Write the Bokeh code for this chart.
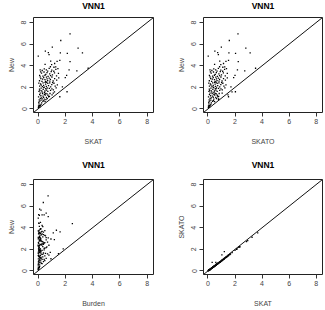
from bokeh.plotting import figure
from bokeh.layouts import column, row
from bokeh.models import Range1d, Slope, Title, FixedTicker
from bokeh.embed import file_html
from bokeh.resources import INLINE

title_text = "VNN1"
ticks = [0, 2, 4, 6, 8]

skat = [0.03, 0.06, 0.11, 0.07, 0.17, 0.22, 0.04, 0.13,
        0.06, 0.13, 0.22, 0.31, 0.43, 0.52, 0.58, 0.17, 0.27, 0.36, 0.68, 0.46, 0.09,
        0.04, 0.12, 0.21, 0.33, 0.41, 0.53, 0.62, 0.73, 0.84, 0.88, 1.03, 1.12, 0.26, 0.16, 0.37, 0.57, 0.47, 0.66, 0.78,
        0.07, 0.14, 0.23, 0.31, 0.38, 0.42, 0.51, 0.57, 0.63, 0.72, 0.83, 0.92, 1.02, 1.21, 1.33, 0.11, 0.27, 0.47, 0.67, 1.13,
        0.12, 0.19, 0.32, 0.37, 0.41, 0.52, 0.61, 0.72, 0.77, 0.86, 0.93, 1.01, 1.17, 1.26, 0.06, 0.24, 0.46, 0.56, 0.64, 1.07, 1.42,
        0.11, 0.21, 0.29, 0.42, 0.51, 0.62, 0.71, 0.82, 0.91, 1.02, 1.11, 1.22, 1.37, 0.16, 0.34, 0.56, 0.67, 0.87, 1.52,
        0.12, 0.26, 0.36, 0.44, 0.57, 0.66, 0.74, 0.86, 0.97, 1.06, 1.21, 1.36, 0.19, 0.51, 0.92, 1.16,
        0.16, 0.31, 0.46, 0.61, 0.82, 1.01, 1.17, 1.31, 0.71, 0.91, 1.46,
        0.52, 1.22, 0.93,
        2.35, 1.67, 2.94, 1.05, 0.54, 0.76, 0.81, 0.02, 1.64, 2.15, 3.26, 1.60, 2.35, 1.40, 2.85, 2.28, 3.68, 2.13, 1.79, 1.60, 2.00, 1.30, 1.00, 1.50, 2.10]

skato = [0.03, 0.06, 0.10, 0.07, 0.16, 0.21, 0.04, 0.12,
         0.06, 0.12, 0.21, 0.79, 0.41, 0.49, 0.78, 0.16, 0.25, 0.34, 0.64, 0.43, 0.09,
         0.04, 0.11, 0.20, 0.31, 0.39, 0.50, 0.58, 0.69, 0.79, 0.83, 1.48, 1.05, 0.25, 0.15, 0.35, 0.54, 0.44, 0.62, 0.73,
         0.07, 0.13, 0.22, 0.29, 0.36, 0.40, 0.48, 0.54, 0.59, 0.68, 0.78, 0.87, 0.96, 1.78, 1.25, 0.10, 0.25, 0.44, 0.63, 1.06,
         0.11, 0.18, 0.30, 0.35, 0.39, 0.49, 0.57, 0.68, 0.72, 0.81, 0.87, 0.95, 1.10, 1.18, 0.06, 0.23, 0.43, 0.53, 0.60, 1.01, 1.33,
         0.10, 0.20, 0.27, 0.39, 0.48, 0.58, 0.67, 0.77, 0.86, 0.96, 1.04, 1.15, 1.29, 0.15, 0.32, 0.53, 0.63, 0.82, 1.43,
         0.11, 0.24, 0.34, 0.41, 0.54, 0.62, 0.70, 0.81, 0.91, 1.00, 1.14, 1.28, 0.18, 0.48, 0.86, 1.09,
         0.15, 0.29, 0.43, 0.57, 0.77, 0.95, 1.10, 1.23, 0.67, 0.86, 1.37,
         0.49, 1.15, 0.87,
         2.22, 1.58, 2.80, 0.99, 0.51, 0.72, 0.77, 0.02, 1.55, 2.04, 3.12, 1.52, 2.24, 1.33, 2.72, 2.18, 3.52, 2.03, 1.70, 1.52, 1.90, 1.24, 0.95, 1.43, 2.00]

burden = [0.01, 0.03, 0.05, 0.02, 0.10, 0.12, 0.02, 0.06,
          0.02, 0.05, 0.10, 0.20, 0.15, 0.30, 0.40, 0.08, 0.12, 0.25, 0.50, 0.05, 0.03,
          0.03, 0.08, 0.15, 0.02, 0.30, 0.10, 0.45, 0.20, 0.60, 0.05, 0.35, 0.80, 0.12, 0.04, 0.25, 0.18, 0.07, 0.50, 0.15,
          0.02, 0.10, 0.05, 0.25, 0.15, 0.08, 0.40, 0.20, 0.03, 0.55, 0.30, 0.90, 0.12, 0.70, 0.45, 0.06, 0.18, 0.35, 0.10, 0.22,
          0.05, 0.02, 0.15, 0.30, 0.08, 0.20, 0.45, 0.12, 0.60, 0.25, 0.04, 0.35, 0.80, 0.50, 0.01, 0.10, 0.18, 0.06, 0.40, 0.15, 0.65,
          0.03, 0.12, 0.06, 0.20, 0.35, 0.10, 0.50, 0.15, 0.28, 0.95, 0.40, 0.22, 0.70, 0.02, 0.08, 0.30, 0.18, 0.45, 0.60,
          0.02, 0.15, 0.05, 0.30, 0.10, 0.40, 0.20, 0.55, 0.08, 0.35, 0.25, 0.75, 0.04, 0.12, 0.60, 0.18,
          0.05, 0.12, 0.02, 0.25, 0.08, 0.40, 0.15, 0.30, 0.06, 0.20, 0.50,
          0.10, 0.30, 0.05,
          0.74, 0.39, 0.22, 0.12, 0.60, 0.05, 0.75, 0.02, 0.30, 0.10, 0.45, 0.18, 2.52, 0.08, 1.12, 1.62, 1.35, 1.50, 1.85, 0.95, 1.20, 0.20, 0.35, 0.50, 0.15]

new = [0.12, 0.22, 0.33, 0.47, 0.31, 0.42, 0.27, 0.18,
       0.62, 0.73, 0.81, 0.93, 0.77, 0.68, 0.87, 0.97, 0.57, 0.71, 0.96, 0.91, 0.84,
       1.12, 1.33, 1.22, 1.41, 1.08, 1.29, 1.06, 1.27, 1.17, 1.43, 1.31, 1.47, 1.03, 1.46, 1.19, 1.44, 1.36, 1.39, 1.13,
       1.62, 1.71, 1.92, 1.56, 1.81, 1.97, 1.66, 1.87, 1.74, 1.63, 1.91, 1.72, 1.86, 1.58, 1.96, 1.84, 1.67, 1.53, 1.94, 1.77,
       2.12, 2.31, 2.06, 2.42, 2.18, 2.46, 2.09, 2.36, 2.16, 2.41, 2.04, 2.26, 2.38, 2.11, 2.39, 2.21, 2.02, 2.29, 2.47, 2.44, 2.23,
       2.61, 2.82, 2.56, 2.91, 2.71, 2.94, 2.62, 2.86, 2.74, 2.96, 2.59, 2.81, 2.66, 2.97, 2.76, 2.54, 2.79, 2.57, 2.88,
       3.11, 3.31, 3.04, 3.42, 3.21, 3.36, 3.01, 3.24, 3.46, 3.16, 3.34, 3.06, 3.44, 3.12, 3.09, 3.49,
       3.61, 3.56, 3.71, 3.62, 3.76, 3.59, 3.86, 3.66, 3.51, 3.91, 3.74,
       4.12, 4.21, 4.42,
       6.95, 6.34, 5.64, 5.73, 5.36, 5.21, 5.03, 4.90, 5.20, 5.15, 5.20, 4.50, 4.38, 4.40, 3.52, 3.61, 3.77, 1.59, 2.05, 1.13, 2.90, 3.90, 4.10, 3.30, 3.10]

LO, HI = -0.33, 8.47
FONT = "Liberation Sans"
TXT = "#444444"


def panel(xv, yv, xlabel, ylabel, width, height, br, bb, top_shift, title_gap):
    p = figure(width=width, height=height, output_backend="svg", toolbar_location=None,
               x_range=Range1d(LO, HI), y_range=Range1d(LO, HI),
               min_border_left=33, min_border_right=br, min_border_top=34, min_border_bottom=bb,
               background_fill_color="white", border_fill_alpha=0,
               margin=(top_shift, 0, 0, 0))
    p.title = Title(text=title_text, align="center", vertical_align="bottom", text_font=FONT,
                    text_font_style="bold", text_font_size="8.5px", text_color="black",
                    standoff=title_gap)
    p.grid.visible = False
    p.outline_line_color = "#222222"
    p.outline_line_width = 1
    p.outline_line_alpha = 1
    p.scatter(xv, yv, marker="square", size=1.3, color="black", line_width=0)
    p.add_layout(Slope(gradient=1, y_intercept=0, line_color="#111111", line_width=1))
    for ax in (p.xaxis[0], p.yaxis[0]):
        ax.ticker = FixedTicker(ticks=ticks)
        ax.axis_line_color = None
        ax.major_tick_out = 4
        ax.major_tick_in = 0
        ax.minor_tick_line_color = None
        ax.major_tick_line_color = "#333333"
        ax.major_label_text_font = FONT
        ax.major_label_text_font_size = "7px"
        ax.major_label_text_color = TXT
        ax.axis_label_text_font = FONT
        ax.axis_label_text_font_style = "normal"
        ax.axis_label_text_font_size = "7px"
        ax.axis_label_text_color = TXT
    p.xaxis.axis_label = xlabel
    p.yaxis.axis_label = ylabel
    p.xaxis.major_label_standoff = 2
    p.xaxis.axis_label_standoff = 11
    p.yaxis.major_label_standoff = 3
    p.yaxis.major_label_orientation = "parallel"
    p.yaxis.axis_label_standoff = 4
    return p


p1 = panel(skat, new, "SKAT", "New", 170, 169, 17, 40, -17, 14)
p2 = panel(skato, new, "SKATO", "New", 155, 169, 3, 40, -17, 14)
p3 = panel(burden, new, "Burden", "New", 170, 165, 17, 36, -7, 20)
p4 = panel(skat, skato, "SKAT", "SKATO", 155, 165, 3, 36, -7, 20)

layout = column(row(p1, p2), row(p3, p4))
open("out.html", "w").write(file_html(layout, INLINE))
